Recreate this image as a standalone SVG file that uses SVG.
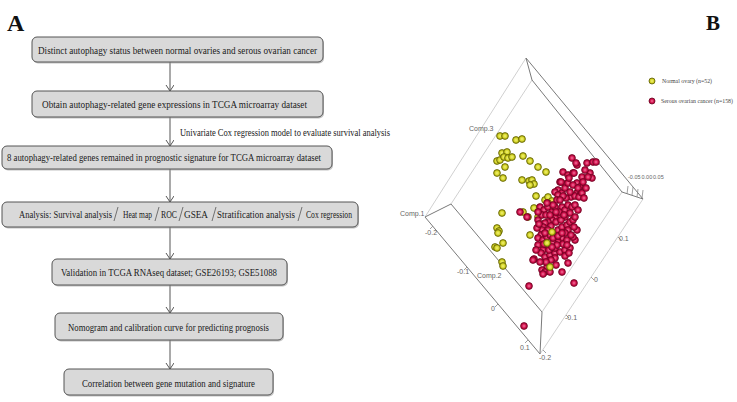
<svg xmlns="http://www.w3.org/2000/svg" xmlns:xlink="http://www.w3.org/1999/xlink" width="737" height="402" viewBox="0 0 737 402">
<defs>
<style>
.box{fill:#d9d9d9;stroke:#555;stroke-width:1}
.shadow{fill:#9a9a9a;opacity:0.6}
.t{font-family:"Liberation Serif","Times New Roman",serif;font-size:11px;fill:#1a1a1a}
.lbl{font-family:"Liberation Serif","Times New Roman",serif;font-weight:bold;fill:#111}
.conn{stroke:#555;stroke-width:1;fill:none}
.div{stroke:#555;stroke-width:0.8;fill:none}
.dk{stroke:#7a7a7a;stroke-width:1;fill:none}
.lt{stroke:#d0d0d0;stroke-width:1;fill:none}
.tk{stroke:#888;stroke-width:0.8;fill:none}
.ax{font-family:"Liberation Sans",Arial,sans-serif;font-size:7px;fill:#666}
.axs{font-family:"Liberation Sans",Arial,sans-serif;font-size:5.5px;fill:#666}
.leg{font-family:"Liberation Serif","Times New Roman",serif;font-size:6px;fill:#444}
.y{fill:url(#gy);stroke:#5f5f00;stroke-width:0.8}
.r{fill:url(#gr);stroke:#6e0020;stroke-width:0.8}
</style>
<radialGradient id="gy" cx="0.5" cy="0.5" r="0.5">
<stop offset="0" stop-color="#f2f27a"/>
<stop offset="0.6" stop-color="#d6d62a"/>
<stop offset="1" stop-color="#a8a810"/>
</radialGradient>
<radialGradient id="gr" cx="0.5" cy="0.5" r="0.5">
<stop offset="0" stop-color="#f37aa0"/>
<stop offset="0.6" stop-color="#d3124e"/>
<stop offset="1" stop-color="#a50a38"/>
</radialGradient>
<marker id="arr" markerWidth="8" markerHeight="10" refX="6" refY="4" orient="auto" markerUnits="userSpaceOnUse">
<path d="M0,0 L6,4 L0,8" fill="none" stroke="#555" stroke-width="1"/>
</marker>
</defs>
<rect width="737" height="402" fill="#fff"/>

<text class="lbl" x="7" y="31" font-size="24">A</text>
<text class="lbl" x="706" y="30" font-size="21">B</text>

<g id="connectors">
<line class="conn" x1="170" y1="62" x2="170" y2="91" marker-end="url(#arr)"/>
<line class="conn" x1="170" y1="117" x2="170" y2="146" marker-end="url(#arr)"/>
<line class="conn" x1="170" y1="169" x2="170" y2="202" marker-end="url(#arr)"/>
<line class="conn" x1="170" y1="227" x2="170" y2="259" marker-end="url(#arr)"/>
<line class="conn" x1="170" y1="285" x2="170" y2="313" marker-end="url(#arr)"/>
<line class="conn" x1="170" y1="340" x2="170" y2="369" marker-end="url(#arr)"/>
<text class="t" x="180" y="136" textLength="210" lengthAdjust="spacingAndGlyphs">Univariate Cox regression model to evaluate survival analysis</text>
</g>

<g id="n1">
<rect class="shadow" x="33" y="38.5" width="291" height="25" rx="5"/>
<rect class="box" x="32" y="37" width="291" height="25" rx="5"/>
<text class="t" x="38" y="53.5" textLength="279" lengthAdjust="spacingAndGlyphs">Distinct autophagy status between normal ovaries and serous ovarian cancer</text>
</g>
<g id="n2">
<rect class="shadow" x="33" y="92.5" width="291" height="26" rx="5"/>
<rect class="box" x="32" y="91" width="291" height="26" rx="5"/>
<text class="t" x="42" y="108" textLength="265" lengthAdjust="spacingAndGlyphs">Obtain autophagy-related gene expressions in TCGA microarray dataset</text>
</g>
<g id="n3">
<rect class="shadow" x="3" y="147.5" width="330" height="23" rx="5"/>
<rect class="box" x="2" y="146" width="330" height="23" rx="5"/>
<text class="t" x="7" y="161" textLength="314" lengthAdjust="spacingAndGlyphs">8 autophagy-related genes remained in prognostic signature for TCGA microarray dataset</text>
</g>
<g id="n4">
<rect class="shadow" x="3" y="203.5" width="356" height="25" rx="5"/>
<rect class="box" x="2" y="202" width="356" height="25" rx="5"/>
<text class="t" transform="translate(19,218) scale(0.7,1)" textLength="132.9" lengthAdjust="spacingAndGlyphs">Analysis: Survival analysis</text>
<path class="div" d="M118,207 L114,221"/>
<text class="t" transform="translate(123,218) scale(0.7,1)" textLength="41.4" lengthAdjust="spacingAndGlyphs">Heat map</text>
<path class="div" d="M159,207 L155,221"/>
<text class="t" transform="translate(161,218) scale(0.7,1)" textLength="22.9" lengthAdjust="spacingAndGlyphs">ROC</text>
<path class="div" d="M183,207 L179,221"/>
<text class="t" transform="translate(184,218) scale(0.7,1)" textLength="34.3" lengthAdjust="spacingAndGlyphs">GSEA</text>
<path class="div" d="M216,207 L212,221"/>
<text class="t" transform="translate(217,218) scale(0.7,1)" textLength="111.4" lengthAdjust="spacingAndGlyphs">Stratification analysis</text>
<path class="div" d="M302,207 L298,221"/>
<text class="t" transform="translate(306,218) scale(0.7,1)" textLength="65.7" lengthAdjust="spacingAndGlyphs">Cox regression</text>
</g>
<g id="n5">
<rect class="shadow" x="53" y="260.5" width="235" height="26" rx="5"/>
<rect class="box" x="52" y="259" width="235" height="26" rx="5"/>
<text class="t" x="61" y="276" textLength="216" lengthAdjust="spacingAndGlyphs">Validation in TCGA RNAseq dataset; GSE26193; GSE51088</text>
</g>
<g id="n6">
<rect class="shadow" x="56" y="314.5" width="228" height="27" rx="5"/>
<rect class="box" x="55" y="313" width="228" height="27" rx="5"/>
<text class="t" x="68" y="331" textLength="201" lengthAdjust="spacingAndGlyphs">Nomogram and calibration curve for predicting prognosis</text>
</g>
<g id="n7">
<rect class="shadow" x="65" y="370.5" width="209" height="26" rx="5"/>
<rect class="box" x="64" y="369" width="209" height="26" rx="5"/>
<text class="t" x="82" y="386.5" textLength="173" lengthAdjust="spacingAndGlyphs">Correlation between gene mutation and signature</text>
</g>

<g id="plot">
<line class="lt" x1="425" y1="217" x2="526" y2="58"/>
<line class="lt" x1="451" y1="204" x2="532" y2="80"/>
<line class="lt" x1="542" y1="312" x2="622" y2="192"/>
<line class="lt" x1="540" y1="354" x2="643" y2="199"/>
<path class="dk" d="M425,217 L451,204 L542,312 L540,354 Z"/>
<path class="dk" d="M526,58 L532,80 L622,192 L643,199 Z"/>
<path class="tk" d="M433,226 l-3,3 M467,267 l-3,3 M498,304 l-3,3 M528,340 l-3,3"/>
<path class="tk" d="M543,350 l3,3 M566,315 l3,3 M591,277 l3,3 M618,237 l3,3"/>
<path class="tk" d="M627,194 l1,-8 M632,195 l1,-8 M637,197 l1,-8 M642,198 l1,-8"/>
<text class="ax" x="400" y="215.5">Comp.1</text>
<text class="ax" x="477" y="278">Comp.2</text>
<text class="ax" x="469" y="131">Comp.3</text>
<text class="ax" x="425" y="235">-0.2</text>
<text class="ax" x="457" y="274">-0.1</text>
<text class="ax" x="491" y="311">0</text>
<text class="ax" x="520" y="350">0.1</text>
<text class="ax" x="539" y="360">-0.2</text>
<text class="ax" x="565" y="320">-0.1</text>
<text class="ax" x="594" y="282">0</text>
<text class="ax" x="619" y="241">0.1</text>
<text class="axs" x="628" y="179">-0.05</text>
<text class="axs" x="641.5" y="179">0.00</text>
<text class="axs" x="653" y="179">0.05</text>

<g id="legend">
<circle class="y" cx="652" cy="81" r="3"/>
<text class="leg" x="662" y="83" textLength="50" lengthAdjust="spacingAndGlyphs">Normal ovary (n=52)</text>
<circle class="r" cx="652" cy="101" r="3"/>
<text class="leg" x="661" y="103" textLength="72" lengthAdjust="spacingAndGlyphs">Serous ovarian cancer (n=158)</text>
</g>

<g id="normal">
<circle class="y" cx="500" cy="136" r="3.4"/><circle class="y" cx="505" cy="136" r="3.4"/>
<circle class="y" cx="516" cy="140" r="3.4"/><circle class="y" cx="522" cy="139" r="3.4"/>
<circle class="y" cx="502" cy="153" r="3.4"/><circle class="y" cx="507" cy="152" r="3.4"/>
<circle class="y" cx="497" cy="161" r="3.4"/><circle class="y" cx="500" cy="160" r="3.4"/>
<circle class="y" cx="504" cy="157" r="3.4"/><circle class="y" cx="508" cy="158" r="3.4"/>
<circle class="y" cx="512" cy="157" r="3.4"/><circle class="y" cx="523" cy="156" r="3.4"/>
<circle class="y" cx="530" cy="161" r="3.4"/><circle class="y" cx="538" cy="167" r="3.4"/>
<circle class="y" cx="546" cy="172" r="3.4"/><circle class="y" cx="497" cy="173" r="3.4"/>
<circle class="y" cx="503" cy="178" r="3.4"/><circle class="y" cx="505" cy="167" r="3.4"/>
<circle class="y" cx="522" cy="180" r="3.4"/><circle class="y" cx="529" cy="181" r="3.4"/>
<circle class="y" cx="532" cy="180" r="3.4"/><circle class="y" cx="534" cy="184" r="3.4"/>
<circle class="y" cx="530" cy="185" r="3.4"/><circle class="y" cx="536" cy="196" r="3.4"/>
<circle class="y" cx="545" cy="200" r="3.4"/><circle class="y" cx="548" cy="197" r="3.4"/>
<circle class="y" cx="552" cy="201" r="3.4"/><circle class="y" cx="548" cy="203" r="3.4"/>
<circle class="y" cx="534" cy="208" r="3.4"/><circle class="y" cx="538" cy="217" r="3.4"/>
<circle class="y" cx="502" cy="213" r="3.4"/><circle class="y" cx="497" cy="228" r="3.4"/>
<circle class="y" cx="499" cy="231" r="3.4"/><circle class="y" cx="498" cy="233" r="3.4"/>
<circle class="y" cx="503" cy="243" r="3.4"/><circle class="y" cx="495" cy="247" r="3.4"/>
<circle class="y" cx="497" cy="248" r="3.4"/><circle class="y" cx="502" cy="262" r="3.4"/>
<circle class="y" cx="503" cy="266" r="3.4"/><circle class="y" cx="530" cy="235" r="3.4"/>
<circle class="y" cx="523" cy="212" r="3.4"/><circle class="y" cx="528" cy="217" r="3.4"/>
</g>

<g id="cancer">
<circle class="r" cx="572" cy="158" r="3.4"/><circle class="r" cx="577" cy="165" r="3.4"/>
<circle class="r" cx="587" cy="163" r="3.4"/><circle class="r" cx="593" cy="162" r="3.4"/>
<circle class="r" cx="596" cy="162" r="3.4"/><circle class="r" cx="563" cy="172" r="3.4"/>
<circle class="r" cx="568" cy="175" r="3.4"/><circle class="r" cx="573" cy="173" r="3.4"/>
<circle class="r" cx="582" cy="177" r="3.4"/><circle class="r" cx="590" cy="173" r="3.4"/>
<circle class="r" cx="592" cy="178" r="3.4"/><circle class="r" cx="560" cy="182" r="3.4"/>
<circle class="r" cx="565" cy="184" r="3.4"/><circle class="r" cx="577" cy="183" r="3.4"/>
<circle class="r" cx="580" cy="187" r="3.4"/><circle class="r" cx="583" cy="182" r="3.4"/>
<circle class="r" cx="558" cy="190" r="3.4"/><circle class="r" cx="562" cy="193" r="3.4"/>
<circle class="r" cx="577" cy="193" r="3.4"/><circle class="r" cx="580" cy="195" r="3.4"/>
<circle class="r" cx="576" cy="163" r="3.4"/><circle class="r" cx="574" cy="173" r="3.4"/>
<circle class="r" cx="561" cy="182" r="3.4"/><circle class="r" cx="565" cy="188" r="3.4"/>
<circle class="r" cx="568" cy="183" r="3.4"/><circle class="r" cx="573" cy="185" r="3.4"/>
<circle class="r" cx="578" cy="188" r="3.4"/><circle class="r" cx="571" cy="197" r="3.4"/>
<circle class="r" cx="575" cy="196" r="3.4"/><circle class="r" cx="579" cy="197" r="3.4"/>
<circle class="r" cx="582" cy="193" r="3.4"/><circle class="r" cx="555" cy="192" r="3.4"/>
<circle class="r" cx="558" cy="195" r="3.4"/><circle class="r" cx="557" cy="200" r="3.4"/>
<circle class="r" cx="540" cy="207" r="3.4"/><circle class="r" cx="544" cy="210" r="3.4"/>
<circle class="r" cx="548" cy="207" r="3.4"/><circle class="r" cx="552" cy="212" r="3.4"/>
<circle class="r" cx="555" cy="207" r="3.4"/><circle class="r" cx="562" cy="207" r="3.4"/>
<circle class="r" cx="565" cy="210" r="3.4"/><circle class="r" cx="568" cy="205" r="3.4"/>
<circle class="r" cx="572" cy="207" r="3.4"/><circle class="r" cx="570" cy="213" r="3.4"/>
<circle class="r" cx="565" cy="217" r="3.4"/><circle class="r" cx="560" cy="217" r="3.4"/>
<circle class="r" cx="555" cy="218" r="3.4"/><circle class="r" cx="552" cy="220" r="3.4"/>
<circle class="r" cx="548" cy="222" r="3.4"/><circle class="r" cx="545" cy="223" r="3.4"/>
<circle class="r" cx="543" cy="227" r="3.4"/><circle class="r" cx="542" cy="230" r="3.4"/>
<circle class="r" cx="541" cy="235" r="3.4"/><circle class="r" cx="538" cy="238" r="3.4"/>
<circle class="r" cx="543" cy="240" r="3.4"/><circle class="r" cx="547" cy="237" r="3.4"/>
<circle class="r" cx="550" cy="235" r="3.4"/><circle class="r" cx="555" cy="233" r="3.4"/>
<circle class="r" cx="558" cy="230" r="3.4"/><circle class="r" cx="562" cy="227" r="3.4"/>
<circle class="r" cx="567" cy="225" r="3.4"/><circle class="r" cx="570" cy="222" r="3.4"/>
<circle class="r" cx="573" cy="220" r="3.4"/><circle class="r" cx="575" cy="217" r="3.4"/>
<circle class="r" cx="568" cy="230" r="3.4"/><circle class="r" cx="565" cy="233" r="3.4"/>
<circle class="r" cx="562" cy="238" r="3.4"/><circle class="r" cx="558" cy="242" r="3.4"/>
<circle class="r" cx="553" cy="243" r="3.4"/><circle class="r" cx="548" cy="247" r="3.4"/>
<circle class="r" cx="543" cy="250" r="3.4"/><circle class="r" cx="541" cy="253" r="3.4"/>
<circle class="r" cx="545" cy="257" r="3.4"/><circle class="r" cx="550" cy="255" r="3.4"/>
<circle class="r" cx="555" cy="253" r="3.4"/><circle class="r" cx="560" cy="252" r="3.4"/>
<circle class="r" cx="565" cy="250" r="3.4"/><circle class="r" cx="570" cy="248" r="3.4"/>
<circle class="r" cx="575" cy="240" r="3.4"/><circle class="r" cx="577" cy="230" r="3.4"/>
<circle class="r" cx="573" cy="237" r="3.4"/><circle class="r" cx="538" cy="245" r="3.4"/>
<circle class="r" cx="555" cy="248" r="3.4"/><circle class="r" cx="555" cy="258" r="3.4"/>
<circle class="r" cx="547" cy="267" r="3.4"/><circle class="r" cx="542" cy="270" r="3.4"/>
<circle class="r" cx="545" cy="272" r="3.4"/><circle class="r" cx="534" cy="259" r="3.4"/>
<circle class="r" cx="562" cy="272" r="3.4"/><circle class="r" cx="568" cy="263" r="3.4"/>
<circle class="r" cx="574" cy="283" r="3.4"/><circle class="r" cx="529" cy="286" r="3.4"/>
<circle class="r" cx="524" cy="326" r="3.4"/><circle class="r" cx="520" cy="212" r="3.4"/>
<circle class="r" cx="527" cy="217" r="3.4"/><circle class="r" cx="538" cy="220" r="3.4"/>
<circle class="r" cx="542" cy="215" r="3.4"/><circle class="r" cx="538" cy="212" r="3.4"/>
<circle class="r" cx="533" cy="260" r="3.4"/><circle class="r" cx="543" cy="274" r="3.4"/>
<circle class="r" cx="550" cy="272" r="3.4"/>
<circle class="r" cx="546" cy="215" r="3.4"/><circle class="r" cx="551" cy="226" r="3.4"/>
<circle class="r" cx="556" cy="222" r="3.4"/><circle class="r" cx="561" cy="220" r="3.4"/>
<circle class="r" cx="548" cy="230" r="3.4"/><circle class="r" cx="553" cy="238" r="3.4"/>
<circle class="r" cx="558" cy="236" r="3.4"/><circle class="r" cx="544" cy="244" r="3.4"/>
<circle class="r" cx="549" cy="250" r="3.4"/><circle class="r" cx="563" cy="244" r="3.4"/>
<circle class="r" cx="567" cy="240" r="3.4"/><circle class="r" cx="571" cy="235" r="3.4"/>
<circle class="r" cx="559" cy="212" r="3.4"/><circle class="r" cx="564" cy="215" r="3.4"/>
<circle class="r" cx="553" cy="205" r="3.4"/><circle class="r" cx="547" cy="203" r="3.4"/>
<circle class="r" cx="566" cy="198" r="3.4"/><circle class="r" cx="570" cy="192" r="3.4"/>
<circle class="r" cx="575" cy="205" r="3.4"/><circle class="r" cx="578" cy="210" r="3.4"/>
<circle class="r" cx="574" cy="227" r="3.4"/><circle class="r" cx="551" cy="260" r="3.4"/>
<circle class="r" cx="556" cy="265" r="3.4"/><circle class="r" cx="546" cy="262" r="3.4"/>
<circle class="r" cx="540" cy="262" r="3.4"/><circle class="r" cx="536" cy="250" r="3.4"/>
<circle class="r" cx="537" cy="228" r="3.4"/><circle class="r" cx="539" cy="224" r="3.4"/>
<circle class="r" cx="565" cy="256" r="3.4"/><circle class="r" cx="569" cy="253" r="3.4"/>
<circle class="r" cx="585" cy="170" r="3.4"/><circle class="r" cx="588" cy="177" r="3.4"/>
<circle class="r" cx="569" cy="178" r="3.4"/><circle class="r" cx="563" cy="196" r="3.4"/>
<circle class="r" cx="586" cy="188" r="3.4"/><circle class="r" cx="584" cy="198" r="3.4"/>
<circle class="r" cx="560" cy="200" r="3.4"/><circle class="r" cx="557" cy="245" r="3.4"/>
<circle class="r" cx="552" cy="247" r="3.4"/><circle class="r" cx="545" cy="233" r="3.4"/>
<circle class="r" cx="550" cy="215" r="3.4"/><circle class="r" cx="556" cy="212" r="3.4"/>
<circle class="r" cx="562" cy="233" r="3.4"/><circle class="r" cx="567" cy="245" r="3.4"/>
</g>
<g id="normal-front">
<circle class="y" cx="552" cy="232" r="3.4"/><circle class="y" cx="547" cy="243" r="3.4"/>
<circle class="y" cx="550" cy="267" r="3.4"/>
</g>
</g>
</svg>
